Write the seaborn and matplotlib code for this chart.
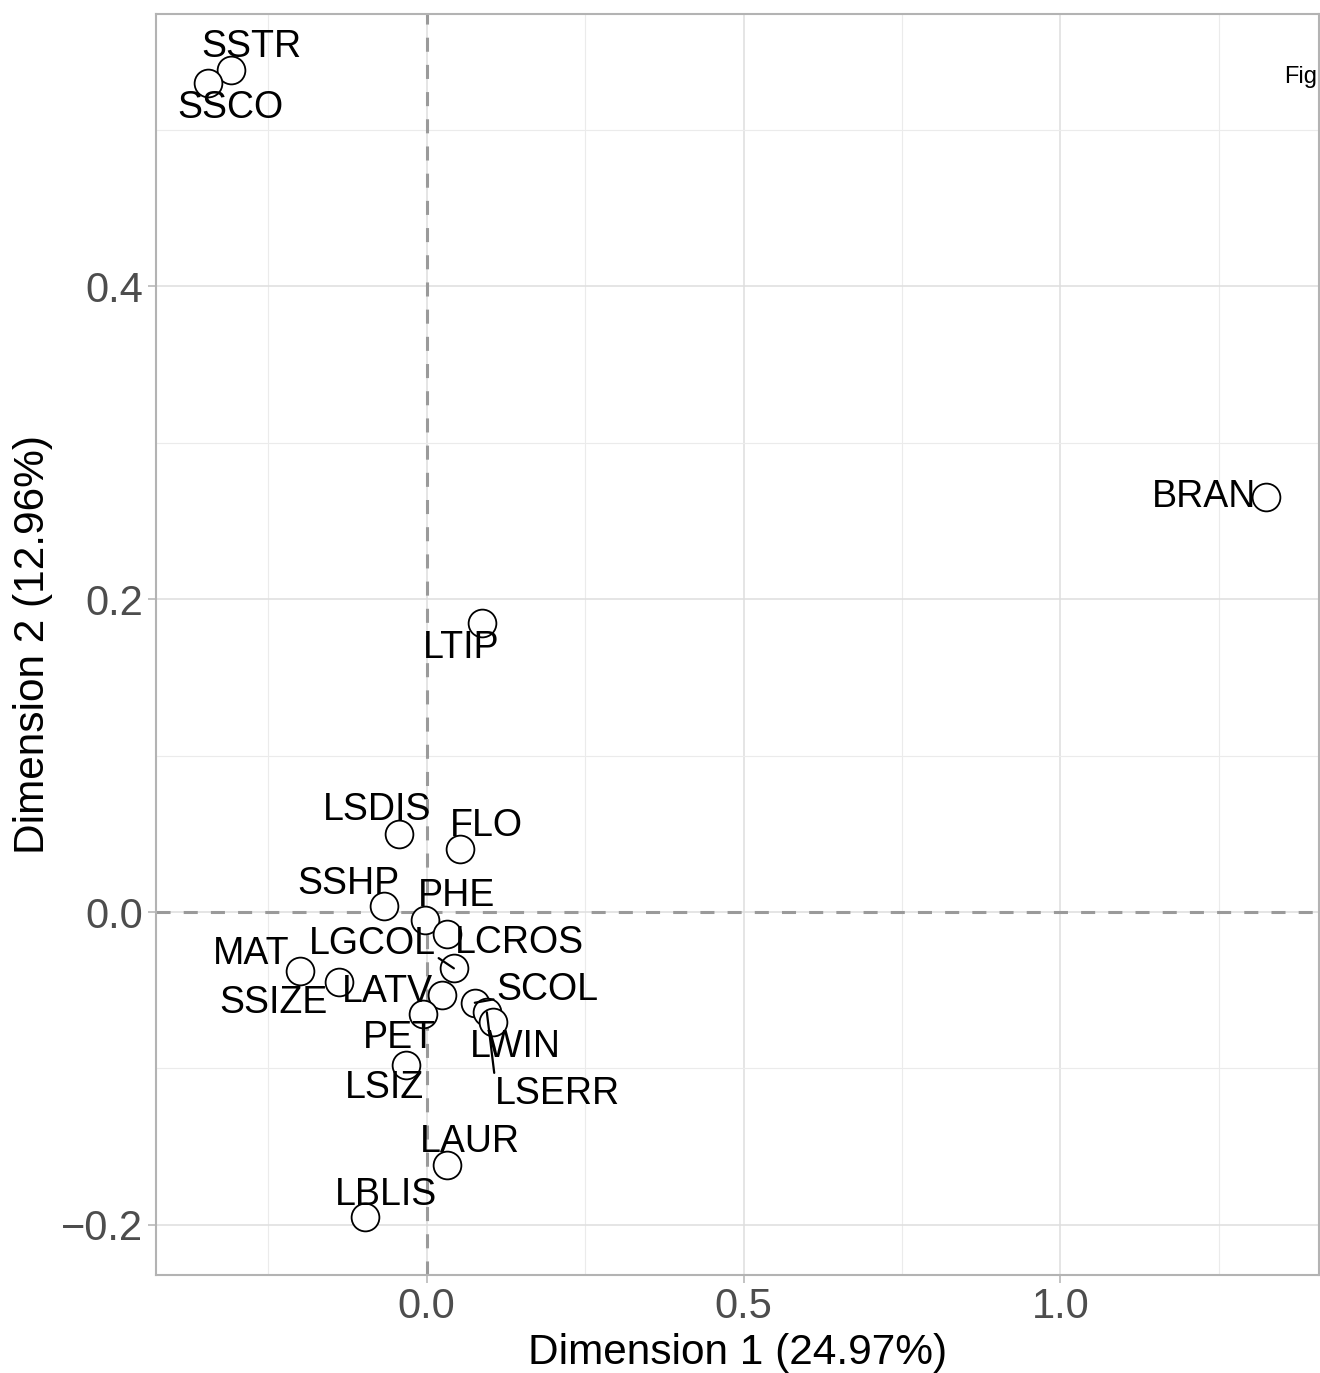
import pandas as pd
import matplotlib
matplotlib.use("Agg")
import matplotlib.pyplot as plt
import seaborn as sns

# DATA
labels = ["SSTR", "SSCO", "BRAN", "LTIP", "LSDIS", "FLO", "SSHP", "PHE",
          "LCROS", "LGCOL", "MAT", "SSIZE", "LATV", "SCOL", "LSERR", "LWIN",
          "PET", "LSIZ", "LAUR", "LBLIS"]
dim1 = [-0.308, -0.345, 1.325, 0.088, -0.044, 0.052, -0.068, -0.003,
        0.032, 0.043, -0.200, -0.139, 0.024, 0.076, 0.095, 0.104,
        -0.006, -0.033, 0.032, -0.098]
dim2 = [0.538, 0.530, 0.265, 0.185, 0.050, 0.040, 0.004, -0.005,
        -0.014, -0.036, -0.038, -0.045, -0.053, -0.058, -0.064, -0.070,
        -0.065, -0.098, -0.162, -0.195]

x_title = "Dimension 1 (24.97%)"
y_title = "Dimension 2 (12.96%)"
x_ticks = [0.0, 0.5, 1.0]
y_ticks = [-0.2, 0.0, 0.2, 0.4]

# label offsets in pixels (repel-style placement), plus which ones get a segment
LABEL_OFFSETS = {
    "SSTR": (20, 23), "SSCO": (22, -25), "BRAN": (-62, 0), "LTIP": (-21, -25),
    "LSDIS": (-22, 24), "FLO": (27, 23), "SSHP": (-35, 22), "PHE": (32, 24),
    "LCROS": (73, -9), "LGCOL": (-82, 24), "MAT": (-49, 17), "SSIZE": (-65, -21),
    "LATV": (-54, 3), "SCOL": (73, 13), "LSERR": (71, -82), "LWIN": (23, -25),
    "PET": (-23, -24), "LSIZ": (-21, -23), "LAUR": (23, 23), "LBLIS": (21, 22),
}
SEGMENTS = {"LGCOL": (0.97, 0.25), "SCOL": (0.0, 0.25), "LSERR": (0.0, 0.85)}

df = pd.DataFrame({"label": labels, "dim1": dim1, "dim2": dim2})

sns.set_theme(style="whitegrid")
plt.rcParams["font.family"] = ["Liberation Sans", "DejaVu Sans"]

fig = plt.figure(figsize=(13.2, 13.73), dpi=100)
ax = fig.add_axes([156 / 1320, 1 - 1275 / 1373, (1319 - 156) / 1320, (1275 - 14) / 1373])

# reference lines at zero
ax.axhline(0, color="#9a9a9a", lw=2.2, ls=(0, (4.6, 4.3)), zorder=1)
ax.axvline(0, color="#9a9a9a", lw=2.2, ls=(0, (4.6, 4.3)), zorder=1)

sns.scatterplot(data=df, x="dim1", y="dim2", ax=ax, s=400,
                facecolor="white", edgecolor="black", linewidth=1.3, zorder=3)

for lab, x, y in zip(labels, dim1, dim2):
    dx, dy = LABEL_OFFSETS[lab]
    kw = {}
    if lab in SEGMENTS:
        kw["arrowprops"] = dict(arrowstyle="-", color="black", lw=1.6,
                                shrinkA=0, shrinkB=0, relpos=SEGMENTS[lab])
    ax.annotate(lab, (x, y), xytext=(dx, dy), textcoords="offset pixels",
                ha="center", va="center", fontsize=27, color="black",
                zorder=5, **kw)

# stray caption text at the right edge (cut off in the reference)
ax.text(1.353, 0.534, "Fig", fontsize=17, color="black",
        ha="left", va="center", clip_on=False)

ax.set_xlim(-0.427, 1.408)
ax.set_ylim(-0.232, 0.574)
ax.set_xticks(x_ticks)
ax.set_yticks(y_ticks)
ax.set_xticks([-0.25, 0.25, 0.75, 1.25], minor=True)
ax.set_yticks([-0.1, 0.1, 0.3, 0.5], minor=True)
ax.set_xticklabels([f"{t:.1f}" for t in x_ticks])
ax.set_yticklabels([f"{t:.1f}".replace("-", "\u2212") for t in y_ticks])
ax.grid(which="major", color="#dedede", lw=1.1)
ax.grid(which="minor", color="#ebebeb", lw=0.8)
ax.tick_params(which="major", length=6, width=1.1, color="#b3b3b3",
               labelsize=30, labelcolor="#4d4d4d", pad=3, bottom=True, left=True)
ax.tick_params(which="minor", length=0)
for sp in ax.spines.values():
    sp.set_color("#b3b3b3")
    sp.set_linewidth(1.5)

ax.set_xlabel(x_title, fontsize=30.5, color="black", labelpad=4)
ax.set_ylabel(y_title, fontsize=30.5, color="black", labelpad=6)

fig.savefig("out.png", dpi=100)
